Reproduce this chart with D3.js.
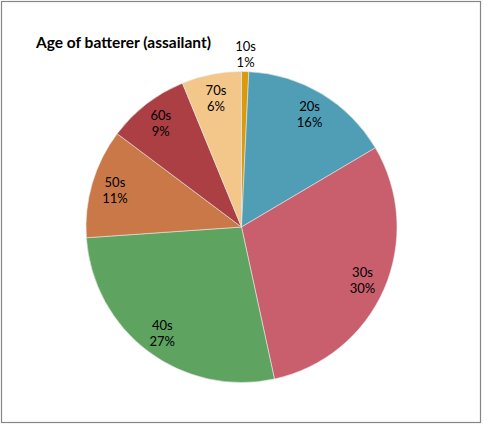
<!DOCTYPE html>
<html><head><meta charset="utf-8">
<script src="https://cdn.jsdelivr.net/npm/d3@7"></script>
<style>body{margin:0;background:#fff}svg{display:block}</style>
</head><body>
<script>
const categories = ["10s","20s","30s","40s","50s","60s","70s"];
const values = [0.75, 15.75, 30.1, 27.3, 11.35, 8.55, 6.2];
const colors = ["#D99B0C","#4F9EB6","#C95F6D","#5EA360","#CB7849","#AB3F43","#F3C68A"];
const title = "Age of batterer (assailant)";

const W = 484, H = 425;
const svg = d3.select("body").append("svg").attr("width", W).attr("height", H);
svg.append("rect").attr("x",1.5).attr("y",1.5).attr("width",479).attr("height",421)
  .attr("fill","#fff").attr("stroke","#868686").attr("stroke-width",1.2);

svg.append("text").attr("x",36).attr("y",48).text(title)
  .attr("font-family","Lato, 'Open Sans', sans-serif").attr("font-weight","bold")
  .attr("font-size",15.5).attr("fill","#000");

const cx = 241.5, cy = 227, R = 155.5;
const total = d3.sum(values);
const data = categories.map((c,i)=>({cat:c, v:values[i], col:colors[i]}));
const pie = d3.pie().value(d=>d.v).sort(null);
const arcs = pie(data);
const arc = d3.arc().innerRadius(0).outerRadius(R);
const g = svg.append("g").attr("transform",`translate(${cx},${cy})`);
g.selectAll("path").data(arcs).enter().append("path")
  .attr("d",arc).attr("fill",d=>d.data.col)
  .attr("stroke","#e8e8e8").attr("stroke-width",0.6);

const labelArc = d3.arc().innerRadius(132).outerRadius(132);
const outArc = d3.arc().innerRadius(173).outerRadius(173);
arcs.forEach(a=>{
  const pct = Math.round(a.data.v/total*100);
  const c = pct < 3 ? outArc.centroid(a) : labelArc.centroid(a);
  const t = g.append("text").attr("text-anchor","middle")
    .attr("font-family","Lato, 'Open Sans', sans-serif").attr("font-size",13).attr("fill","#000");
  t.append("tspan").attr("x",c[0]).attr("y",c[1]-3).text(a.data.cat);
  t.append("tspan").attr("x",c[0]).attr("y",c[1]+13).text(pct+"%");
});
</script>
</body></html>
